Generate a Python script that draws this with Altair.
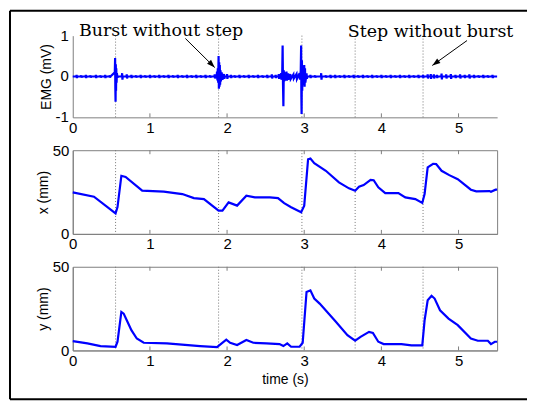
import altair as alt
import pandas as pd

# ---------------- data ----------------
x_ticks = [0, 1, 2, 3, 4, 5]
emg_ticks = [-1, 0, 1]
emg_tick_labels = ["-1", "0", "1"]
mm_ticks = [0, 50]
event_times = [0.555, 1.89, 2.97, 3.66, 4.54]

# small EMG blips on the baseline: time (s) and amplitude (mV)
emg_blip_t = [0.05, 0.11, 0.17, 0.23, 0.30, 0.36, 0.42, 0.48, 0.64, 0.70, 0.76, 0.82, 0.88, 0.94, 1.00,
              1.06, 1.12, 1.18, 1.24, 1.30, 1.36, 1.42, 1.48, 1.54, 1.60, 1.66, 1.72, 1.78, 1.84, 2.00,
              2.05, 2.10, 2.16, 2.22, 2.28, 2.34, 2.40, 2.46, 2.52, 2.58, 2.63, 2.67, 3.08, 3.14, 3.22,
              3.28, 3.34, 3.40, 3.46, 3.52, 3.58, 3.64, 3.70, 3.76, 3.82, 3.88, 3.94, 4.00, 4.06, 4.12,
              4.18, 4.24, 4.30, 4.36, 4.42, 4.48, 4.54, 4.60, 4.64, 4.68, 4.72, 4.78, 4.84, 4.90, 4.96,
              5.02, 5.08, 5.14, 5.20, 5.26, 5.32, 5.38, 5.44]
emg_blip_a = [0.04, 0.03, 0.04, 0.03, 0.04, 0.03, 0.04, 0.03, 0.08, 0.05, 0.04, 0.03, 0.04, 0.03, 0.04,
              0.03, 0.04, 0.03, 0.04, 0.03, 0.04, 0.03, 0.04, 0.03, 0.04, 0.03, 0.04, 0.03, 0.05, 0.06,
              0.04, 0.03, 0.04, 0.03, 0.04, 0.03, 0.04, 0.03, 0.04, 0.05, 0.04, 0.06, 0.04, 0.03, 0.08,
              0.03, 0.04, 0.04, 0.03, 0.04, 0.03, 0.04, 0.03, 0.04, 0.03, 0.04, 0.03, 0.04, 0.03, 0.04,
              0.03, 0.04, 0.03, 0.04, 0.03, 0.04, 0.04, 0.05, 0.06, 0.05, 0.04, 0.07, 0.05, 0.06, 0.04,
              0.05, 0.04, 0.05, 0.04, 0.03, 0.04, 0.03, 0.04]

# EMG bursts, sample by sample: time (s), value (mV)
emg_burst_points = [
    (0.545, 0.10), (0.549, 0.45), (0.552, -0.30), (0.555, -0.62), (0.558, 0.30), (0.561, -0.35),
    (0.564, 0.20), (0.568, -0.15), (0.572, 0.08), (0.58, -0.03), (0.585, 0.0),
    (1.865, 0.0), (1.87, 0.12), (1.875, -0.10), (1.88, 0.20), (1.885, -0.15), (1.89, 0.50), (1.894, -0.30),
    (1.898, 0.35), (1.902, -0.25), (1.906, 0.28), (1.91, -0.20), (1.915, 0.15), (1.92, -0.12),
    (1.93, 0.10), (1.94, -0.08), (1.96, 0.06), (1.965, -0.06), (1.97, 0.0),
    (2.695, 0.0), (2.70, 0.08), (2.705, -0.08), (2.715, 0.10), (2.72, 0.76), (2.725, -0.20), (2.73, -0.73),
    (2.735, 0.15), (2.74, -0.12), (2.75, 0.10), (2.755, -0.10), (2.77, 0.12), (2.775, -0.10),
    (2.79, 0.08), (2.795, -0.08), (2.82, 0.06), (2.825, -0.06), (2.86, 0.05), (2.865, -0.05),
    (2.90, 0.06), (2.905, -0.06), (2.94, 0.08), (2.945, -0.08),
    (2.955, 0.15), (2.96, 0.76), (2.963, -0.50), (2.966, -0.92), (2.97, 0.40), (2.974, -0.35),
    (2.978, 0.25), (2.982, -0.20), (2.99, 0.15), (2.995, -0.12), (3.00, 0.28), (3.005, -0.25),
    (3.01, 0.20), (3.015, -0.15), (3.03, 0.08), (3.035, -0.06), (3.04, 0.0),
]

x_t = [0.0, 0.275, 0.555, 0.58, 0.63, 0.685, 0.9, 1.18, 1.42, 1.57, 1.7, 1.89, 1.94, 2.02, 2.13, 2.25, 2.36,
       2.555, 2.66, 2.74, 2.83, 2.96, 3.0, 3.05, 3.08, 3.13, 3.28, 3.45, 3.58, 3.66, 3.71, 3.77, 3.86, 3.9,
       3.96, 4.05, 4.22, 4.31, 4.44, 4.53, 4.56, 4.6, 4.67, 4.71, 4.78, 4.88, 4.99, 5.16, 5.23, 5.4, 5.42,
       5.48, 5.5]
x_mm = [24.8, 22.2, 12.3, 16.0, 34.7, 34.0, 25.8, 25.2, 23.8, 21.4, 20.8, 13.9, 13.9, 18.8, 16.9, 22.8, 21.8,
        21.8, 21.4, 18.4, 15.9, 12.9, 16.9, 44.6, 45.0, 42.3, 37.7, 30.8, 27.2, 25.8, 28.2, 29.2, 32.3, 32.1,
        27.8, 24.4, 24.4, 21.8, 20.8, 18.5, 23.8, 39.7, 41.9, 41.7, 37.7, 35.1, 32.7, 26.4, 25.4, 25.6, 25.2,
        26.4, 26.4]

y_t = [0.0, 0.19, 0.36, 0.555, 0.58, 0.63, 0.66, 0.7, 0.76, 0.83, 0.92, 1.22, 1.65, 1.87, 1.93, 1.99, 2.04,
       2.13, 2.25, 2.34, 2.51, 2.68, 2.73, 2.78, 2.83, 2.94, 2.98, 3.03, 3.08, 3.13, 3.2, 3.41, 3.56, 3.66,
       3.73, 3.84, 3.89, 3.96, 4.03, 4.26, 4.39, 4.53, 4.56, 4.6, 4.65, 4.69, 4.76, 4.87, 4.99, 5.16, 5.25,
       5.38, 5.42, 5.47, 5.5]
y_mm = [5.6, 4.2, 2.6, 2.2, 5.2, 23.0, 22.0, 18.0, 12.1, 7.1, 4.6, 4.2, 2.6, 2.0, 4.2, 6.5, 4.6, 3.2, 6.2,
        4.6, 4.2, 3.8, 2.6, 4.2, 2.2, 2.2, 4.6, 34.9, 35.9, 31.0, 28.0, 17.1, 9.1, 5.8, 8.1, 11.1, 10.5,
        5.2, 3.8, 3.8, 3.0, 3.0, 18.0, 30.0, 32.7, 31.0, 24.0, 19.0, 15.1, 7.1, 5.8, 5.8, 3.8, 5.2, 5.2]

note_text = ["Burst without step", "Step without burst"]
note_t = [0.08, 3.565]
note_v = [1.0, 0.96]

arrow_t0 = [1.46, 5.11]
arrow_v0 = [0.93, 0.88]
arrow_t1 = [1.84, 4.66]
arrow_v1 = [0.22, 0.27]
arrow_angle = [135, 234]

# ---------------- tables ----------------
emg_rows = [(0.0, 0.0), (5.5, 0.0)] + list(emg_burst_points)
for bt, ba in zip(emg_blip_t, emg_blip_a):
    emg_rows += [(bt - 0.004, 0.0), (bt, ba), (bt + 0.004, -ba), (bt + 0.008, 0.0)]
emg_df = pd.DataFrame(sorted(emg_rows), columns=["t", "v"])
x_df = pd.DataFrame({"t": x_t, "v": x_mm})
y_df = pd.DataFrame({"t": y_t, "v": y_mm})
ev_df = pd.DataFrame({"t": event_times})
tick_df = pd.DataFrame({"t": x_ticks[1:]})
emg_lab_df = pd.DataFrame({"v": emg_ticks, "label": emg_tick_labels})
note_df = pd.DataFrame({"t": note_t, "v": note_v, "label": note_text})
arrow_df = pd.DataFrame({"t0": arrow_t0, "v0": arrow_v0, "t1": arrow_t1, "v1": arrow_v1, "angle": arrow_angle})
one = pd.DataFrame({"k": [0]})

BLUE = "#0000ff"
GRAY = "#808080"
W = 426
xscale = alt.Scale(domain=[0, 5.5], nice=False)


def xenc(title):
    return alt.X("t:Q", scale=xscale,
                 axis=alt.Axis(values=x_ticks, labelFlush=False, labelOverlap=False, format="d", title=title))


def inner_ticks(height, top):
    layers = [alt.Chart(tick_df).mark_rule(color=GRAY, strokeWidth=1).encode(
        x=alt.X("t:Q", scale=xscale), y=alt.value(height), y2=alt.value(height - 4))]
    if top:
        layers.append(alt.Chart(tick_df).mark_rule(color=GRAY, strokeWidth=1).encode(
            x=alt.X("t:Q", scale=xscale), y=alt.value(0), y2=alt.value(4)))
    return layers


def panel(df, ydomain, yticks, ytitle, xtitle, show_labels=True):
    yenc = alt.Y("v:Q", scale=alt.Scale(domain=ydomain, nice=False),
                 axis=alt.Axis(values=yticks, title=ytitle, format="d", labelFlush=False,
                               labelOverlap=False, labels=show_labels,
                               titlePadding=2 if show_labels else 19))
    events = alt.Chart(ev_df).mark_rule(color="#777777", strokeWidth=1, strokeDash=[1, 2]).encode(
        x=alt.X("t:Q", scale=xscale))
    line = alt.Chart(df).mark_line(color=BLUE, strokeWidth=2.2).encode(x=xenc(xtitle), y=yenc)
    return events, line


ev1, line1 = panel(emg_df, [-1, 1], emg_ticks, "EMG (mV)", None, show_labels=False)
emg_labels = alt.Chart(emg_lab_df).mark_text(align="right", baseline="middle", font="Liberation Sans",
                                             fontSize=15, color="black", dx=-4).encode(
    x=alt.value(0), y=alt.Y("v:Q"), text="label:N")
notes = alt.Chart(note_df).mark_text(align="left", baseline="alphabetic", font="DejaVu Serif",
                                     fontSize=17.5, color="black").encode(
    x=alt.X("t:Q", scale=xscale), y=alt.Y("v:Q"), text="label:N")
arrows = alt.Chart(arrow_df).mark_rule(color="black", strokeWidth=1).encode(
    x=alt.X("t0:Q", scale=xscale), y="v0:Q", x2="t1:Q", y2="v1:Q")
heads = alt.Chart(arrow_df).mark_point(shape="M0,0L-0.35,1L0.35,1Z", filled=True, size=260, color="black",
                                       opacity=1).encode(
    x=alt.X("t1:Q", scale=xscale), y="v1:Q", angle=alt.Angle("angle:Q", scale=None))
# outer frame of the figure (pixel offsets from the top panel's corner)
border_l = alt.Chart(one).mark_rule(color="black", strokeWidth=2).encode(
    x=alt.value(-63), y=alt.value(-25), y2=alt.value(365))
border_t = alt.Chart(one).mark_rule(color="black", strokeWidth=2).encode(
    x=alt.value(-63), x2=alt.value(456), y=alt.value(-25))
border_b = alt.Chart(one).mark_rule(color="black", strokeWidth=2).encode(
    x=alt.value(-63), x2=alt.value(456), y=alt.value(365))

p1 = alt.layer(ev1, *inner_ticks(82, False), line1, emg_labels, notes, arrows, heads,
               border_l, border_t, border_b).properties(
    width=W, height=82, view=alt.ViewBackground(stroke="transparent"))

ev2, line2 = panel(x_df, [0, 50], mm_ticks, "x (mm)", None)
p2 = alt.layer(ev2, *inner_ticks(84, True), line2).properties(width=W, height=84)

ev3, line3 = panel(y_df, [0, 50], mm_ticks, "y (mm)", "time (s)")
p3 = alt.layer(ev3, *inner_ticks(84, True), line3).properties(width=W, height=84)

chart = alt.vconcat(p1, p2, p3, spacing=33, bounds="flush").properties(
    padding=0, background="white"
).configure(font="Liberation Sans").configure_view(
    stroke=GRAY, strokeWidth=1
).configure_axis(
    labelFont="Liberation Sans", labelFontSize=15, labelColor="black", labelOverlap=False,
    titleFont="Liberation Sans", titleFontSize=14, titleFontWeight="normal", titleColor="black",
    domainColor=GRAY, ticks=False, grid=False, labelPadding=4, titlePadding=2
).configure_axisX(labelPadding=3, titlePadding=4)

chart.save("out.html", embed_options={"renderer": "svg", "actions": False})
